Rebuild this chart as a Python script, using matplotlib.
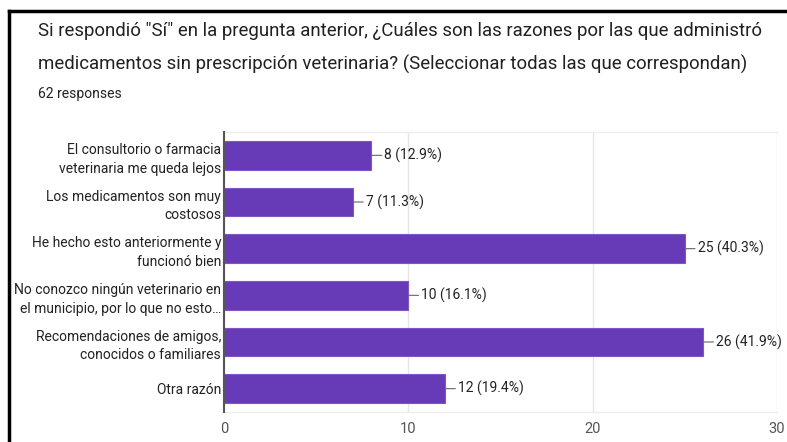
import matplotlib
matplotlib.use("Agg")
import matplotlib.pyplot as plt
from matplotlib.lines import Line2D

categories = [
    "El consultorio o farmacia\nveterinaria me queda lejos",
    "Los medicamentos son muy\ncostosos",
    "He hecho esto anteriormente y\nfuncionó bien",
    "No conozco ningún veterinario en\nel municipio, por lo que no esto…",
    "Recomendaciones de amigos,\nconocidos o familiares",
    "Otra razón",
]
counts = [8, 7, 25, 10, 26, 12]
percents = ["12.9%", "11.3%", "40.3%", "16.1%", "41.9%", "19.4%"]
xticks = [0, 10, 20, 30]
title_lines = ['Si respondió "Sí" en la pregunta anterior, ¿Cuáles son las razones por las que administró',
               'medicamentos sin prescripción veterinaria? (Seleccionar todas las que correspondan)']
subtitle = "62 responses"

plt.rcParams['font.family'] = ['Roboto', 'DejaVu Sans']

W, H = 787, 442
fig = plt.figure(figsize=(W / 100, H / 100), dpi=100)
fig.patch.set_facecolor("white")

# axes geometry in pixels
x0, x1 = 224, 777
y0, y1 = 132, 412
ax = fig.add_axes([x0 / W, 1 - y1 / H, (x1 - x0) / W, (y1 - y0) / H])

ypos = list(range(len(categories)))
ax.barh(ypos, counts, height=0.62, color="#673ab7", edgecolor="#7e57c2", linewidth=0.8, zorder=3)
ax.set_ylim(len(categories) - 0.5, -0.5)
ax.set_xlim(0, 30)
ax.set_xticks(xticks)
ax.set_xticklabels([str(t) for t in xticks], fontsize=10.5, color="#555555")
ax.set_yticks(ypos)
ax.set_yticklabels(categories, fontsize=10, color="#222222", linespacing=1.45)
ax.tick_params(axis="both", length=0)
ax.tick_params(axis="y", pad=2)
ax.tick_params(axis="x", pad=7)
ax.grid(axis="x", color="#e6e6e6", linewidth=1, zorder=0)
for s in ["top", "bottom", "right"]:
    ax.spines[s].set_color("#eeeeee")
    ax.spines[s].set_linewidth(1)
ax.spines["right"].set_visible(False)
ax.spines["left"].set_color("#555555")
ax.spines["left"].set_linewidth(1.5)
ax.spines["left"].set_zorder(4)

for y, c, p in zip(ypos, counts, percents):
    ax.annotate(f"{c} ({p})", xy=(c, y), xytext=(13, 0), textcoords="offset pixels",
                va="center", ha="left", fontsize=10, color="#222222",
                arrowprops=dict(arrowstyle="-", color="#666666", lw=0.8,
                                shrinkA=0, shrinkB=0))

# titles
fig.text(38 / W, 1 - 31 / H, title_lines[0], fontsize=13.4, color="#202124", va="center", ha="left")
fig.text(38 / W, 1 - 64 / H, title_lines[1], fontsize=13.4, color="#202124", va="center", ha="left")
fig.text(38 / W, 1 - 94 / H, subtitle, fontsize=10, color="#202124", va="center", ha="left")

# black frame (top and left)
fig.add_artist(Line2D([9 / W, 1], [1 - 11 / H, 1 - 11 / H], color="black", lw=2.5, transform=fig.transFigure))
fig.add_artist(Line2D([9 / W, 9 / W], [1 - 11 / H, 0], color="black", lw=2.5, transform=fig.transFigure))

fig.savefig("out.png", dpi=100)
